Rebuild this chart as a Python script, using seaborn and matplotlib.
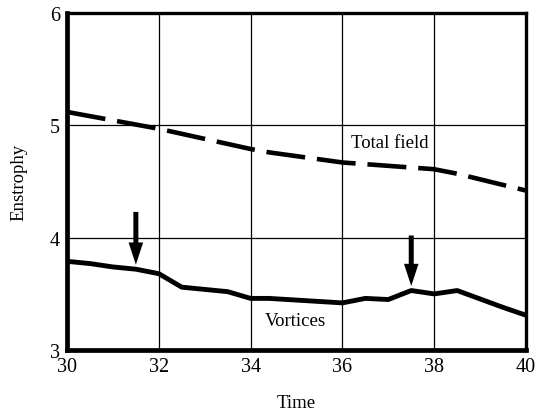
import matplotlib
matplotlib.use("Agg")
import matplotlib.pyplot as plt
import seaborn as sns
import pandas as pd

# Data
total_time = [30, 32, 34, 34.4, 36, 38, 38.5, 40]
total_enstrophy = [5.12, 4.97, 4.79, 4.76, 4.67, 4.61, 4.57, 4.42]

vort_time = [30, 30.5, 31, 31.5, 32, 32.5, 33.5, 34, 34.4, 36, 36.5, 37, 37.5, 38, 38.5, 39.5, 40]
vort_enstrophy = [3.79, 3.77, 3.74, 3.72, 3.68, 3.56, 3.52, 3.46, 3.46, 3.42, 3.46, 3.45, 3.53, 3.50, 3.53, 3.38, 3.31]

arrow_x = [31.5, 37.5]
arrow_top = [4.23, 4.02]
arrow_tip = [3.76, 3.57]

x_ticks = [30, 32, 34, 36, 38, 40]
y_ticks = [3, 4, 5, 6]

sns.set_theme(style="white")
plt.rcParams['font.family'] = ['Liberation Serif', 'DejaVu Serif']

fig = plt.figure(figsize=(5.37, 4.14), dpi=100)
ax = fig.add_axes([0.1248, 0.152, 0.8547, 0.814])

df_total = pd.DataFrame({"Time": total_time, "Enstrophy": total_enstrophy})
df_vort = pd.DataFrame({"Time": vort_time, "Enstrophy": vort_enstrophy})

sns.lineplot(data=df_total, x="Time", y="Enstrophy", ax=ax, color="black",
             linewidth=3.3)
ax.lines[-1].set_dashes([8.5, 2.6])
sns.lineplot(data=df_vort, x="Time", y="Enstrophy", ax=ax, color="black",
             linewidth=3.5)

for xa, yt, yb in zip(arrow_x, arrow_top, arrow_tip):
    ax.annotate("", xy=(xa, yb), xytext=(xa, yt),
                arrowprops=dict(arrowstyle="simple,head_length=1.6,head_width=1.05,tail_width=0.36",
                                fc="black", ec="none", shrinkA=0, shrinkB=0,
                                mutation_scale=10))

ax.text(37.03, 4.85, "Total field", ha="center", va="center", fontsize=13.5, color="black")
ax.text(34.97, 3.26, "Vortices", ha="center", va="center", fontsize=13.5, color="black")

ax.set_xlim(30, 40)
ax.set_ylim(3, 6)
ax.set_xticks(x_ticks)
ax.set_yticks(y_ticks)
ax.grid(True, color="black", linewidth=0.9)
ax.tick_params(axis="both", length=0, labelsize=14.5, colors="black")
ax.tick_params(axis="x", pad=5)
ax.tick_params(axis="y", pad=5)

ax.set_xlabel("Time", fontsize=13.5, labelpad=13, color="black")
ax.set_ylabel("Enstrophy", fontsize=13.5, labelpad=16, color="black")

for side, lw in [("left", 3.4), ("bottom", 3.4), ("top", 2.4), ("right", 2.4)]:
    ax.spines[side].set_visible(True)
    ax.spines[side].set_color("black")
    ax.spines[side].set_linewidth(lw)

fig.savefig("out.png", dpi=100)
